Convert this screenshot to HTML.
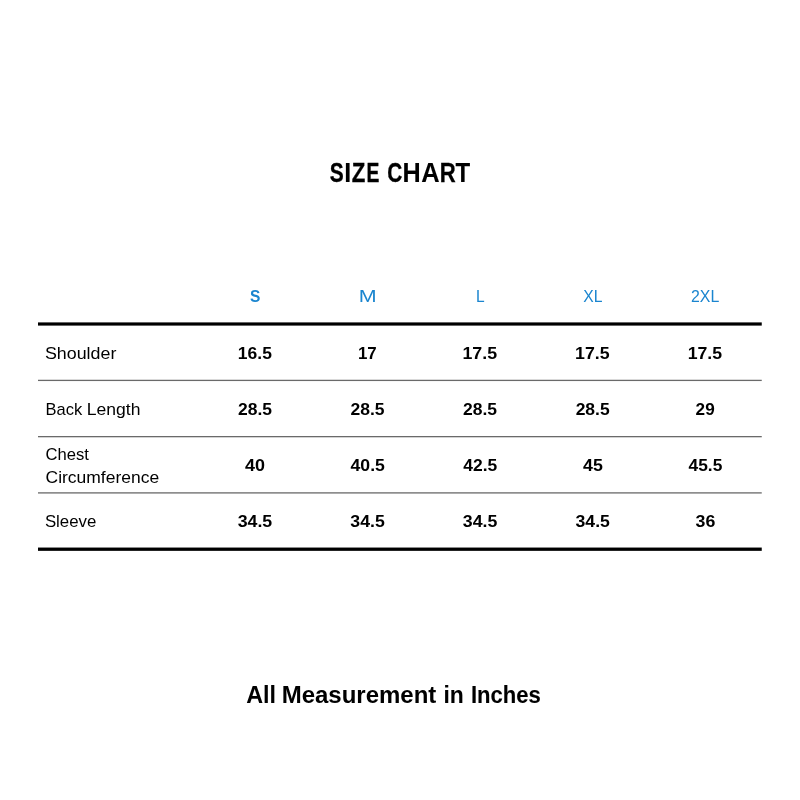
<!DOCTYPE html>
<html lang="en">
<head>
<meta charset="utf-8">
<title>Size Chart</title>
<style>
html,body{margin:0;padding:0;background:#fff;}
body{width:800px;height:800px;position:relative;overflow:hidden;font-family:"Liberation Sans",Arial,Helvetica,sans-serif;color:#000;}
h1,p,div{margin:0;padding:0;}
.rules{position:absolute;left:0;top:0;}
.t{position:absolute;left:0;display:block;white-space:nowrap;line-height:1;transform-origin:0 0;}
.c{display:inline-block;transform-origin:0 0;-webkit-text-stroke-color:currentColor;}
.f0{font-size:27.0px;font-weight:700;color:#000;}
.f1{font-size:17.0px;font-weight:700;color:#1a85cf;}
.f2{font-size:17.0px;font-weight:400;color:#1a85cf;}
.f3{font-size:16.4px;font-weight:400;color:#000;}
.f4{font-size:16.4px;font-weight:700;color:#000;}
.f5{font-size:23.3px;font-weight:700;color:#000;}
</style>
</head>
<body>
<svg class="rules" width="800" height="800" viewBox="0 0 800 800" aria-hidden="true">
<rect class="ln" x="38" y="322.4" width="723.75" height="3.2" fill="#000"/>
<rect class="ln" x="38" y="379.75" width="723.75" height="1.3" fill="#6a6a6a"/>
<rect class="ln" x="38" y="436" width="723.75" height="1.3" fill="#6a6a6a"/>
<rect class="ln" x="38" y="492.25" width="723.75" height="1.3" fill="#6a6a6a"/>
<rect class="ln" x="38" y="547.55" width="723.75" height="3.3" fill="#000"/>
</svg>
<h1 class="t f0" style="top:160px"><span class="c" style="transform:translateX(329.83px) scaleX(0.775);-webkit-text-stroke-width:0.33px;">S</span><span class="c" style="transform:translateX(326.2px) scaleX(0.9319);-webkit-text-stroke-width:0.06px;">I</span><span class="c" style="transform:translateX(325.63px) scaleX(0.8228);-webkit-text-stroke-width:0.26px;">Z</span><span class="c" style="transform:translateX(324.51px) scaleX(0.7132);-webkit-text-stroke-width:0.41px;">E</span> <span class="c" style="transform:translateX(319.33px) scaleX(0.7719);-webkit-text-stroke-width:0.31px;">C</span><span class="c" style="transform:translateX(315.52px) scaleX(0.9325);-webkit-text-stroke-width:0.11px;">H</span><span class="c" style="transform:translateX(314.18px) scaleX(0.9438);-webkit-text-stroke-width:0.09px;">A</span><span class="c" style="transform:translateX(313.7px) scaleX(0.8206);-webkit-text-stroke-width:0.27px;">R</span><span class="c" style="transform:translateX(309.6px) scaleX(0.8887);-webkit-text-stroke-width:0.16px;">T</span></h1>
<div class="row head">
  <div class="cell"><span class="t f1" style="top:288px;transform:translateX(249.96px) scaleX(0.914);">S</span></div>
  <div class="cell"><span class="t f2" style="top:288px;transform:translateX(358.72px) scaleX(1.262);">M</span></div>
  <div class="cell"><span class="t f2" style="top:288px;transform:translateX(476.11px) scaleX(0.9129);">L</span></div>
  <div class="cell"><span class="t f2" style="top:288px;transform:translateX(583.29px) scaleX(0.923);">XL</span></div>
  <div class="cell"><span class="t f2" style="top:288px;transform:translateX(690.96px) scaleX(0.9338);">2XL</span></div>
</div>
<div class="row r1">
  <div class="cell"><span class="t f3" style="top:345px;transform:translateX(44.98px) scaleX(1.0876);">Shoulder</span></div>
  <div class="cell"><span class="t f4" style="top:345px;transform:translateX(237.86px) scaleX(1.0662);">16.5</span></div>
  <div class="cell"><span class="t f4" style="top:345px;transform:translateX(357.91px) scaleX(1.0318);">17</span></div>
  <div class="cell"><span class="t f4" style="top:345px;transform:translateX(462.46px) scaleX(1.0855);">17.5</span></div>
  <div class="cell"><span class="t f4" style="top:345px;transform:translateX(575.11px) scaleX(1.084);">17.5</span></div>
  <div class="cell"><span class="t f4" style="top:345px;transform:translateX(687.68px) scaleX(1.0799);">17.5</span></div>
</div>
<div class="row r2">
  <div class="cell"><span class="t f3" style="top:401px"><span class="c" style="transform:translateX(45.52px) scaleX(1.007);">Back</span> <span class="c" style="transform:translateX(45.78px) scaleX(1.0701);">Length</span></span></div>
  <div class="cell"><span class="t f4" style="top:401px;transform:translateX(238.08px) scaleX(1.0661);">28.5</span></div>
  <div class="cell"><span class="t f4" style="top:401px;transform:translateX(350.48px) scaleX(1.0684);">28.5</span></div>
  <div class="cell"><span class="t f4" style="top:401px;transform:translateX(463.03px) scaleX(1.0671);">28.5</span></div>
  <div class="cell"><span class="t f4" style="top:401px;transform:translateX(575.65px) scaleX(1.0668);">28.5</span></div>
  <div class="cell"><span class="t f4" style="top:401px;transform:translateX(695.6px) scaleX(1.0469);">29</span></div>
</div>
<div class="row r3">
  <div class="cell"><span class="t f3" style="top:446px;transform:translateX(45.57px) scaleX(1.0124);">Chest</span> <span class="t f3" style="top:469px;transform:translateX(45.55px) scaleX(1.0654);">Circumference</span></div>
  <div class="cell"><span class="t f4" style="top:457px;transform:translateX(245.11px) scaleX(1.0944);">40</span></div>
  <div class="cell"><span class="t f4" style="top:457px;transform:translateX(350.52px) scaleX(1.0757);">40.5</span></div>
  <div class="cell"><span class="t f4" style="top:457px;transform:translateX(463.27px) scaleX(1.065);">42.5</span></div>
  <div class="cell"><span class="t f4" style="top:457px;transform:translateX(583.02px) scaleX(1.0856);">45</span></div>
  <div class="cell"><span class="t f4" style="top:457px;transform:translateX(688.54px) scaleX(1.0593);">45.5</span></div>
</div>
<div class="row r4">
  <div class="cell"><span class="t f3" style="top:513px;transform:translateX(44.9px) scaleX(1.0262);">Sleeve</span></div>
  <div class="cell"><span class="t f4" style="top:513px;transform:translateX(237.65px) scaleX(1.0842);">34.5</span></div>
  <div class="cell"><span class="t f4" style="top:513px;transform:translateX(350.36px) scaleX(1.0782);">34.5</span></div>
  <div class="cell"><span class="t f4" style="top:513px;transform:translateX(462.85px) scaleX(1.0816);">34.5</span></div>
  <div class="cell"><span class="t f4" style="top:513px;transform:translateX(575.54px) scaleX(1.0755);">34.5</span></div>
  <div class="cell"><span class="t f4" style="top:513px;transform:translateX(695.57px) scaleX(1.0822);">36</span></div>
</div>
<p class="t f5 note" style="top:684px"><span class="c" style="transform:translateX(246.2px) scaleX(1.0025);">All</span> <span class="c" style="transform:translateX(245.65px) scaleX(1.03);">Measurement</span> <span class="c" style="transform:translateX(250.44px) scaleX(0.9858);">in</span> <span class="c" style="transform:translateX(250.97px) scaleX(0.9471);-webkit-text-stroke-width:0.09px;">Inches</span></p>
</body>
</html>
